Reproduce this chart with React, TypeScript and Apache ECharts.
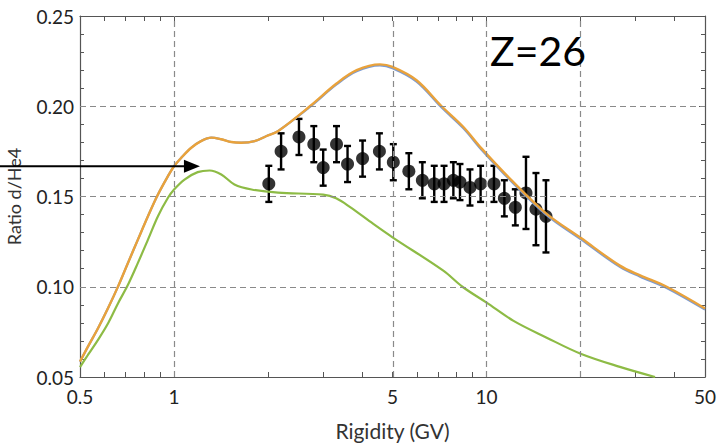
import React, { useEffect, useRef } from "react";
import * as echarts from "echarts";

// ---------- data ----------
const X_LABEL_VALUES = [0.5, 1, 5, 10, 50];
const X_TICK_VALUES = [0.5, 0.6, 0.7, 0.8, 0.9, 1, 2, 3, 4, 5, 6, 7, 8, 9, 10, 20, 30, 40, 50];
const X_GRID_VALUES = [1, 5, 10, 20];
const Y_GRID_VALUES = [0.1, 0.15, 0.2];

// measured points (rigidity GV, ratio, error)
const POINT_R = [2.01, 2.2, 2.51, 2.8, 3.0, 3.31, 3.59, 4.01, 4.54, 5.03, 5.64, 6.23, 6.8, 7.31, 7.83, 8.22, 8.85, 9.57, 10.56, 11.4, 12.36, 13.37, 14.39, 15.49];
const POINT_V = [0.157, 0.175, 0.183, 0.179, 0.166, 0.179, 0.168, 0.171, 0.175, 0.169, 0.164, 0.159, 0.157, 0.157, 0.159, 0.158, 0.155, 0.157, 0.157, 0.149, 0.144, 0.152, 0.143, 0.139];
const POINT_E = [0.01, 0.01, 0.01, 0.01, 0.01, 0.01, 0.01, 0.01, 0.01, 0.01, 0.01, 0.01, 0.01, 0.01, 0.01, 0.01, 0.01, 0.01, 0.01, 0.01, 0.01, 0.02, 0.02, 0.02];

// orange model curve
const ORANGE_R = [0.5, 0.53, 0.571, 0.615, 0.662, 0.712, 0.766, 0.825, 0.888, 0.956, 1.0, 1.055, 1.135, 1.22, 1.316, 1.416, 1.525, 1.64, 1.81, 2.0, 2.15, 2.72, 3.31, 3.84, 4.56, 5.0, 5.97, 7.18, 8.43, 9.65, 12.03, 15.57, 20, 26.7, 31, 37.7, 50];
const ORANGE_V = [0.0585, 0.0668, 0.077, 0.0882, 0.1002, 0.1132, 0.1261, 0.1391, 0.1511, 0.1613, 0.1668, 0.1715, 0.177, 0.1807, 0.1826, 0.1817, 0.1802, 0.1798, 0.1807, 0.1839, 0.1862, 0.2, 0.2126, 0.22, 0.2232, 0.2218, 0.2144, 0.2, 0.1885, 0.1765, 0.1589, 0.1404, 0.1271, 0.1117, 0.1063, 0.1, 0.088];
// blue model curve (almost hidden below orange)
const BLUE_R = [0.5, 0.53, 0.571, 0.615, 0.662, 0.712, 0.766, 0.825, 0.888, 0.956, 1.0, 1.055, 1.135, 1.22, 1.316, 1.416, 1.525, 1.64, 1.81, 2.0, 2.15, 2.72, 3.31, 3.84, 4.56, 5.0, 5.97, 7.18, 8.43, 9.65, 12.03, 15.57, 20, 26.7, 31, 37.7, 50];
const BLUE_V = [0.0585, 0.0668, 0.077, 0.0882, 0.1002, 0.1132, 0.1261, 0.1391, 0.1511, 0.1613, 0.1668, 0.1715, 0.177, 0.1807, 0.1826, 0.1817, 0.1802, 0.1798, 0.1807, 0.1839, 0.1862, 0.1996, 0.2121, 0.2194, 0.2226, 0.2211, 0.2137, 0.1993, 0.1878, 0.1758, 0.1582, 0.1397, 0.1264, 0.111, 0.1056, 0.0993, 0.0873];
// green model curve
const GREEN_R = [0.5, 0.53, 0.571, 0.615, 0.662, 0.712, 0.766, 0.825, 0.888, 0.956, 1.0, 1.08, 1.19, 1.3, 1.416, 1.56, 1.77, 2.15, 3.0, 3.3, 3.66, 4.34, 5.0, 7.27, 8.37, 10, 12.2, 15.57, 20, 26.7, 34.6];
const GREEN_V = [0.0555, 0.0622, 0.0706, 0.0798, 0.0909, 0.1011, 0.1132, 0.1261, 0.1391, 0.1493, 0.1539, 0.1594, 0.1635, 0.1644, 0.1622, 0.1567, 0.1539, 0.1521, 0.151, 0.149, 0.1441, 0.1348, 0.1274, 0.1089, 0.1, 0.0912, 0.0811, 0.0718, 0.0629, 0.0556, 0.05];

const ARROW_VALUE = 0.1667;
const ARROW_TIP_R = 1.21;
const PANEL_LABEL = "Z=26";

const lg = (v: number) => Math.log10(v);
const FONT = "Lato";

export default function App() {
  const ref = useRef<HTMLDivElement>(null);
  useEffect(() => {
    if (!ref.current) return;
    const chart = echarts.init(ref.current, undefined, { renderer: "svg" });
    const xmin = lg(0.5);
    const xmax = lg(50);
    const frame = "#555";
    const baseX = {
      type: "value" as const,
      min: xmin,
      max: xmax,
      axisLine: { show: true, onZero: false, lineStyle: { color: frame, width: 1.2 } },
      axisTick: {
        show: true,
        inside: true,
        length: 5,
        customValues: X_TICK_VALUES.map(lg),
        lineStyle: { color: frame },
      },
      splitLine: { show: false },
    };
    const baseY = {
      type: "value" as const,
      min: 0.05,
      max: 0.25,
      interval: 0.05,
      axisLine: { show: true, onZero: false, lineStyle: { color: frame, width: 1.2 } },
      axisTick: { show: true, inside: true, length: 6, lineStyle: { color: frame } },
      minorTick: { show: true, splitNumber: 5, length: 4, lineStyle: { color: frame } },
      splitLine: { show: false },
    };
    const toPairs = (rs: number[], vs: number[]) => rs.map((r, i) => [lg(r), vs[i]]);
    const curve = (name: string, rs: number[], vs: number[], color: string, width: number) => ({
      name,
      type: "line",
      smooth: 0.35,
      showSymbol: false,
      data: toPairs(rs, vs),
      lineStyle: { color, width },
    });
    chart.setOption({
      animation: false,
      backgroundColor: "#fff",
      textStyle: { fontFamily: FONT },
      grid: { left: 80, right: 13, top: 16, bottom: 70, containLabel: false, outerBoundsMode: "none" },
      xAxis: [
        {
          ...baseX,
          position: "bottom",
          name: "Rigidity (GV)",
          nameLocation: "middle",
          nameGap: 43,
          nameTextStyle: { fontSize: 21, color: "#333", fontFamily: FONT },
          axisLabel: {
            show: true,
            customValues: X_LABEL_VALUES.map(lg),
            margin: 10,
            fontSize: 19,
            color: "#222",
            fontFamily: FONT,
            formatter: (v: number) => {
              const r = Math.round(Math.pow(10, v) * 10) / 10;
              return r < 1 ? r.toFixed(1) : String(Math.round(r));
            },
          },
        },
        {
          ...baseX,
          position: "top",
          axisLabel: { show: false },
        },
      ],
      yAxis: [
        {
          ...baseY,
          position: "left",
          name: "Ratio d/He4",
          nameLocation: "middle",
          nameGap: 57,
          nameTextStyle: { fontSize: 18, color: "#333", fontFamily: FONT },
          axisLabel: {
            show: true,
            margin: 6,
            fontSize: 19,
            color: "#222",
            fontFamily: FONT,
            formatter: (v: number) => v.toFixed(2),
          },
        },
        { ...baseY, position: "right", axisLabel: { show: false } },
      ],
      series: [
        {
          name: "grid",
          type: "line",
          data: [],
          silent: true,
          markLine: {
            silent: true,
            symbol: "none",
            label: { show: false },
            lineStyle: { color: "#8a8a8a", type: [6, 4], width: 1.2 },
            data: [
              ...X_GRID_VALUES.map((v) => ({ xAxis: lg(v) })),
              ...Y_GRID_VALUES.map((v) => ({ yAxis: v })),
            ],
          },
        },
        curve("blue", BLUE_R, BLUE_V, "#7b9bd3", 2.2),
        curve("orange", ORANGE_R, ORANGE_V, "#e9a23b", 2.4),
        curve("green", GREEN_R, GREEN_V, "#8dbb45", 2.2),
        {
          name: "errors",
          type: "custom",
          data: POINT_R.map((r, i) => [lg(r), POINT_V[i], POINT_E[i]]),
          encode: { x: 0, y: 1 },
          renderItem: (_p: any, api: any) => {
            const x = api.value(0);
            const y = api.value(1);
            const e = api.value(2);
            const t = api.coord([x, y + e]);
            const b = api.coord([x, y - e]);
            const hw = 3.5;
            const st = { stroke: "#000", lineWidth: 2.4 };
            return {
              type: "group",
              children: [
                { type: "line", shape: { x1: t[0], y1: t[1], x2: b[0], y2: b[1] }, style: st },
                { type: "line", shape: { x1: t[0] - hw, y1: t[1], x2: t[0] + hw, y2: t[1] }, style: st },
                { type: "line", shape: { x1: b[0] - hw, y1: b[1], x2: b[0] + hw, y2: b[1] }, style: st },
              ],
            };
          },
        },
        {
          name: "points",
          type: "scatter",
          symbol: "circle",
          symbolSize: 13,
          data: POINT_R.map((r, i) => [lg(r), POINT_V[i]]),
          itemStyle: { color: "#000" },
        },
      ],
    });

    const ay = chart.convertToPixel({ yAxisIndex: 0 }, ARROW_VALUE) as number;
    const ax = chart.convertToPixel({ xAxisIndex: 0 }, lg(ARROW_TIP_R)) as number;
    chart.setOption({
      graphic: [
        {
          type: "line",
          shape: { x1: 0, y1: ay, x2: ax - 14, y2: ay },
          style: { stroke: "#000", lineWidth: 2 },
          z: 100,
        },
        {
          type: "polygon",
          shape: { points: [[ax - 16, ay - 6.5], [ax, ay], [ax - 16, ay + 6.5]] },
          style: { fill: "#000" },
          z: 100,
        },
        {
          type: "text",
          x: 490,
          y: 30,
          style: { text: PANEL_LABEL, fontSize: 41, fontFamily: FONT, fill: "#000" },
          z: 100,
        },
      ],
    });
    return () => chart.dispose();
  }, []);
  return (
    <div
      ref={ref}
      style={{ position: "fixed", left: 0, top: 0, width: 718, height: 447 }}
    />
  );
}
